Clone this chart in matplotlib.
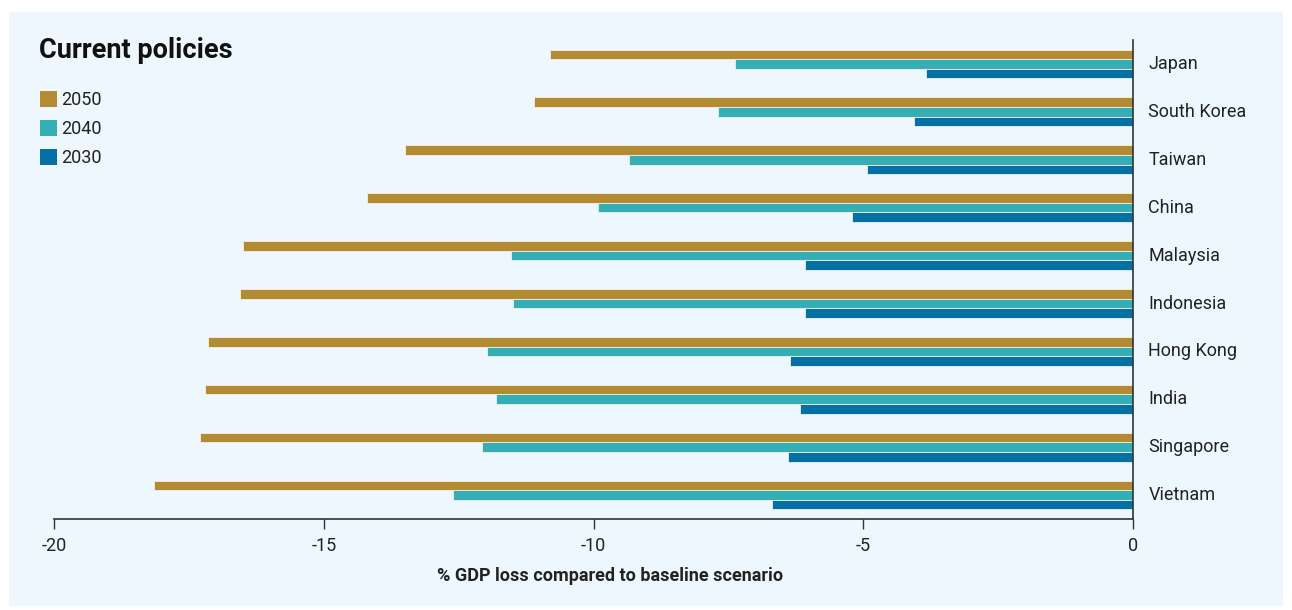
import matplotlib
matplotlib.use("Agg")
import matplotlib.pyplot as plt
import numpy as np
from matplotlib.patches import Rectangle, Patch

countries = ["Japan", "South Korea", "Taiwan", "China", "Malaysia", "Indonesia",
             "Hong Kong", "India", "Singapore", "Vietnam"]
v2050 = [-10.8, -11.1, -13.5, -14.2, -16.5, -16.55, -17.15, -17.2, -17.3, -18.15]
v2040 = [-7.38, -7.7, -9.35, -9.92, -11.53, -11.5, -11.97, -11.8, -12.07, -12.6]
v2030 = [-3.84, -4.06, -4.93, -5.2, -6.08, -6.08, -6.36, -6.17, -6.4, -6.69]
series_labels = ["2050", "2040", "2030"]
colors = ["#b38b35", "#35aeb5", "#0570a5"]
xticks = [-20, -15, -10, -5, 0]

W, H = 1292, 610
plt.rcParams['font.family'] = ['Roboto', 'DejaVu Sans']
fig = plt.figure(figsize=(W/100, H/100), dpi=100)
fig.patch.set_facecolor("white")
bg = "#eef6fe"
fig.patches.append(Rectangle((9/W, 1-606/H), (1283-9)/W, (606-12)/H,
                             transform=fig.transFigure, facecolor=bg, edgecolor="none", zorder=-10))

ax = fig.add_axes([54/W, 1-519/H, (1133-54)/W, (519-40)/H])
ax.set_zorder(2)
ax.set_facecolor("none")
y = np.arange(len(countries))
h = 0.2
for vals, off, c in zip([v2050, v2040, v2030], [-h, 0, h], colors):
    ax.barh(y + off, vals, height=h, color=c, edgecolor="#f4f0e0", linewidth=0.6)

ax.set_ylim(9.5, -0.5)
ax.set_xlim(-20, 0)
ax.set_xticks(xticks)
ax.set_xticklabels([str(t) for t in xticks], fontsize=13, color="#222222")
ax.tick_params(axis='x', length=7, width=1, color="#333333", pad=6)
ax.yaxis.tick_right()
ax.set_yticks(y - 0.04)
ax.set_yticklabels(countries, fontsize=13, color="#222222")
ax.tick_params(axis='y', length=0, pad=11)
for s in ["top", "left"]:
    ax.spines[s].set_visible(False)
for s in ["bottom", "right"]:
    ax.spines[s].set_color("#333333")
    ax.spines[s].set_linewidth(1.2)

fig.text(610/W, 1-576/H, "% GDP loss compared to baseline scenario", ha="center", va="center",
         fontsize=13, fontweight="bold", color="#222222")
fig.text(39/W, 1-50/H, "Current policies", ha="left", va="center",
         fontsize=19.5, fontweight="bold", color="#111111")

handles = [Patch(facecolor=c, edgecolor="none") for c in colors]
leg = fig.legend(handles, series_labels, loc="upper left", bbox_to_anchor=(40/W, 1-91/H),
                 frameon=False, fontsize=13, handlelength=0.95, handleheight=0.95,
                 handletextpad=0.2, labelspacing=0.62, borderaxespad=0, borderpad=0)
for t in leg.get_texts():
    t.set_color("#222222")

fig.savefig("out.png", dpi=100, facecolor="white")
